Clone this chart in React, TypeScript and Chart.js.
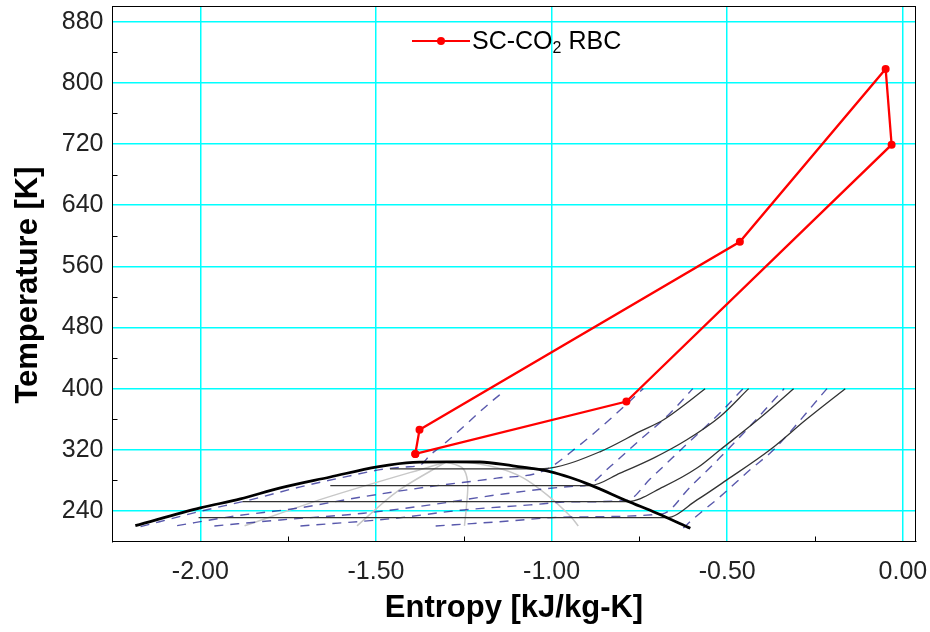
import React, { useEffect, useRef } from 'react';
import { Chart, registerables } from 'chart.js';

Chart.register(...registerables);

// ---- axis ticks ----
const X_TICKS = [-2.0, -1.5, -1.0, -0.5, 0.0];
const Y_TICKS = [240, 320, 400, 480, 560, 640, 720, 800, 880];
const X_MINOR = [-1.75, -1.25, -0.75, -0.25];
const Y_MINOR = [280, 360, 440, 520, 600, 680, 760, 840];

// ---- SC-CO2 recompression Brayton cycle (entropy kJ/kg-K, temperature K) ----
const CYCLE_S = [-1.388, -1.376, -0.464, -0.049, -0.032, -0.787, -1.388];
const CYCLE_T = [314.6, 346.1, 592.2, 818.3, 719.2, 383.1, 314.6];

// ---- saturation dome ----
const DOME_S = [-2.185, -2.0, -1.886, -1.772, -1.63, -1.496, -1.394, -1.298, -1.204, -1.11, -1.062, -1.005, -0.947, -0.89, -0.785, -0.7, -0.605];
const DOME_T = [220.7, 243.9, 255.7, 270.2, 284.4, 297.7, 303.6, 304.2, 304.0, 299.0, 296.0, 291.5, 283.7, 274.1, 253.1, 237.0, 217.3];

// ---- isobars (solid black) ----
const ISO1_S = [-1.46, -1.046, -1.005, -0.861, -0.748, -0.681, -0.615, -0.563];
const ISO1_T = [295.1, 295.1, 296.0, 317.7, 344.0, 359.3, 381.2, 400.0];
const ISO2_S = [-1.63, -0.89, -0.805, -0.71, -0.615, -0.52, -0.439];
const ISO2_T = [273.2, 273.2, 289.4, 309.1, 333.1, 363.6, 400.0];
const ISO3_S = [-1.88, -0.785, -0.682, -0.585, -0.52, -0.406, -0.311];
const ISO3_T = [252.2, 252.2, 271.5, 296.4, 320.0, 361.9, 400.0];
const ISO4_S = [-2.005, -0.672, -0.586, -0.501, -0.378, -0.276, -0.164];
const ISO4_T = [231.2, 231.2, 254.4, 280.6, 320.0, 359.3, 400.0];

// ---- isochores (dashed blue) ----
const D1_S = [-2.17, -2.0, -1.858, -1.715, -1.573, -1.488, -1.416, -1.374, -1.345, -1.309, -1.175, -1.137];
const D1_T = [219.5, 239.5, 254.5, 271.5, 286.0, 294.0, 297.5, 300.0, 313.4, 326.5, 381.6, 396.0];
const D2_S = [-2.066, -1.914, -1.725, -1.535, -1.345, -1.156, -1.023, -0.923, -0.829, -0.739];
const D2_T = [220.7, 232.5, 243.5, 258.7, 271.9, 282.9, 292.4, 325.2, 361.9, 400.0];
const D3_S = [-1.96, -1.772, -1.535, -1.345, -1.156, -0.947, -0.896, -0.833, -0.748, -0.662, -0.598];
const D3_T = [220.3, 228.2, 237.0, 247.9, 261.0, 271.9, 274.3, 298.1, 333.1, 368.1, 400.0];
const D4_S = [-1.715, -1.453, -1.251, -1.061, -0.947, -0.785, -0.719, -0.614, -0.52, -0.455];
const D4_T = [220.3, 230.0, 241.3, 247.9, 251.8, 253.8, 282.0, 327.8, 368.5, 400.0];
const D5_S = [-1.33, -1.156, -0.947, -0.685, -0.605, -0.52, -0.426, -0.338];
const D5_T = [220.3, 225.6, 232.1, 236.1, 271.5, 310.1, 355.4, 400.0];
const D6_S = [-0.625, -0.597, -0.52, -0.435, -0.368, -0.216];
const D6_T = [217.7, 229.5, 258.7, 293.8, 320.0, 400.0];

// ---- quality lines (light grey) ----
const Q2_S = [-1.874, -1.63, -1.3];
const Q2_T = [220.5, 259.0, 304.1];
const Q4_S = [-1.554, -1.44, -1.3];
const Q4_T = [220.5, 265.3, 304.1];
const Q6_S = [-1.248, -1.242, -1.239, -1.254, -1.3];
const Q6_T = [220.4, 248.0, 278.0, 296.3, 304.1];
const Q8_S = [-0.924, -0.947, -1.013, -1.081, -1.155, -1.252, -1.3];
const Q8_T = [220.3, 233.4, 261.0, 283.3, 296.4, 304.2, 304.1];

const X_TITLE = 'Entropy [kJ/kg-K]';
const Y_TITLE = 'Temperature [K]';
const LEGEND_MAIN = 'SC-CO';
const LEGEND_SUB = '2';
const LEGEND_TAIL = ' RBC';

const FONT = 'Arial, "Liberation Sans", Helvetica, sans-serif';

const pts = (s: number[], t: number[]) => s.map((v, i) => ({ x: v, y: t[i] }));

const framePlugin = {
  id: 'frameAndLegend',
  afterDraw(chart: any) {
    const { ctx, chartArea: a, scales } = chart;
    const x = scales.x;
    const y = scales.y;
    ctx.save();
    ctx.strokeStyle = '#000';
    ctx.lineWidth = 1;
    ctx.strokeRect(a.left, a.top, a.right - a.left, a.bottom - a.top);
    ctx.beginPath();
    X_MINOR.forEach((v) => {
      const px = Math.round(x.getPixelForValue(v)) + 0.5;
      ctx.moveTo(px, a.bottom);
      ctx.lineTo(px, a.bottom - 5);
    });
    Y_MINOR.forEach((v) => {
      const py = Math.round(y.getPixelForValue(v)) + 0.5;
      ctx.moveTo(a.left, py);
      ctx.lineTo(a.left + 5, py);
    });
    ctx.stroke();

    // y axis title (rotated)
    ctx.save();
    ctx.translate(28, (a.top + a.bottom) / 2 + 11);
    ctx.rotate(-Math.PI / 2);
    ctx.font = `bold 31px ${FONT}`;
    ctx.fillStyle = '#000';
    ctx.textAlign = 'center';
    ctx.textBaseline = 'middle';
    ctx.fillText(Y_TITLE, 0, 0);
    ctx.restore();

    // legend
    const lx = a.left + 299.5;
    const ly = a.top + 34.5;
    ctx.strokeStyle = '#ff0000';
    ctx.lineWidth = 2;
    ctx.beginPath();
    ctx.moveTo(lx, ly);
    ctx.lineTo(lx + 58, ly);
    ctx.stroke();
    ctx.fillStyle = '#ff0000';
    ctx.beginPath();
    ctx.arc(lx + 29, ly, 4, 0, Math.PI * 2);
    ctx.fill();
    ctx.fillStyle = '#000';
    ctx.textBaseline = 'alphabetic';
    ctx.textAlign = 'left';
    let tx = lx + 60;
    const by = ly + 8;
    ctx.font = `25px ${FONT}`;
    ctx.fillText(LEGEND_MAIN, tx, by);
    tx += ctx.measureText(LEGEND_MAIN).width;
    ctx.font = `16px ${FONT}`;
    ctx.fillText(LEGEND_SUB, tx, by + 4);
    tx += ctx.measureText(LEGEND_SUB).width;
    ctx.font = `25px ${FONT}`;
    ctx.fillText(LEGEND_TAIL, tx, by);
    ctx.restore();
  },
};

export default function App() {
  const ref = useRef<HTMLCanvasElement | null>(null);

  useEffect(() => {
    if (!ref.current) return;
    const dashed = (s: number[], t: number[]) => ({
      data: pts(s, t),
      showLine: true,
      borderColor: 'rgba(25,25,140,0.72)',
      borderWidth: 1.4,
      borderDash: [9, 7],
      pointRadius: 0,
      cubicInterpolationMode: 'monotone',
      order: 3,
    });
    const isobar = (s: number[], t: number[]) => ({
      data: pts(s, t),
      showLine: true,
      borderColor: '#333',
      borderWidth: 1.3,
      pointRadius: 0,
      cubicInterpolationMode: 'monotone',
      order: 2,
    });
    const quality = (s: number[], t: number[]) => ({
      data: pts(s, t),
      showLine: true,
      borderColor: '#c8c8c8',
      borderWidth: 1.5,
      pointRadius: 0,
      tension: 0.3,
      order: 4,
    });

    const chart = new Chart(ref.current, {
      type: 'scatter',
      data: {
        datasets: [
          {
            label: 'SC-CO2 RBC',
            data: pts(CYCLE_S, CYCLE_T),
            showLine: true,
            borderColor: '#ff0000',
            backgroundColor: '#ff0000',
            borderWidth: 2.3,
            pointRadius: 4,
            pointBackgroundColor: '#ff0000',
            pointBorderWidth: 0,
            tension: 0,
            order: 0,
          } as any,
          {
            data: pts(DOME_S, DOME_T),
            showLine: true,
            borderColor: '#000',
            borderWidth: 2.8,
            pointRadius: 0,
            cubicInterpolationMode: 'monotone',
            order: 1,
          } as any,
          isobar(ISO1_S, ISO1_T),
          isobar(ISO2_S, ISO2_T),
          isobar(ISO3_S, ISO3_T),
          isobar(ISO4_S, ISO4_T),
          dashed(D1_S, D1_T),
          dashed(D2_S, D2_T),
          dashed(D3_S, D3_T),
          dashed(D4_S, D4_T),
          dashed(D5_S, D5_T),
          dashed(D6_S, D6_T),
          quality(Q2_S, Q2_T),
          quality(Q4_S, Q4_T),
          quality(Q6_S, Q6_T),
          quality(Q8_S, Q8_T),
        ] as any,
      },
      options: {
        responsive: false,
        animation: false,
        layout: { padding: { top: 6.5, right: 14.5, left: 0, bottom: 0 } },
        plugins: { legend: { display: false }, tooltip: { enabled: false } },
        scales: {
          x: {
            type: 'linear',
            min: -2.25,
            max: 0.036,
            afterBuildTicks: (s: any) => {
              s.ticks = X_TICKS.map((v) => ({ value: v }));
            },
            afterFit: (s: any) => {
              s.height = 90.5;
              s.paddingLeft = 0;
              s.paddingRight = 0;
              s.paddingTop = 0;
              s.paddingBottom = 0;
            },
            grid: { color: '#00ffff', lineWidth: 1.5, drawTicks: false },
            border: { display: true, color: '#000', width: 1 },
            ticks: {
              padding: 16,
              maxRotation: 0,
              color: '#222',
              font: { family: FONT, size: 25 },
              callback: (v: any) => Number(v).toFixed(2),
            },
            title: {
              display: true,
              text: X_TITLE,
              color: '#000',
              font: { family: FONT, size: 31, weight: 'bold' },
              padding: { top: 0, bottom: 5 },
            },
          },
          y: {
            type: 'linear',
            min: 200,
            max: 900,
            afterBuildTicks: (s: any) => {
              s.ticks = Y_TICKS.map((v) => ({ value: v }));
            },
            afterFit: (s: any) => {
              s.width = 112.5;
              s.paddingLeft = 0;
              s.paddingRight = 0;
              s.paddingTop = 0;
              s.paddingBottom = 0;
            },
            grid: { color: '#00ffff', lineWidth: 1.5, drawTicks: false },
            border: { display: true, color: '#000', width: 1 },
            ticks: {
              padding: 9,
              color: '#222',
              font: { family: FONT, size: 25 },
              callback: (v: any) => String(v),
            },
            title: { display: false },
          },
        },
      } as any,
      plugins: [framePlugin],
    });
    return () => chart.destroy();
  }, []);

  return (
    <div style={{ position: 'fixed', left: 0, top: 0, width: 930, height: 632, background: '#fff' }}>
      <canvas ref={ref} width={930} height={632} style={{ display: 'block' }} />
    </div>
  );
}
